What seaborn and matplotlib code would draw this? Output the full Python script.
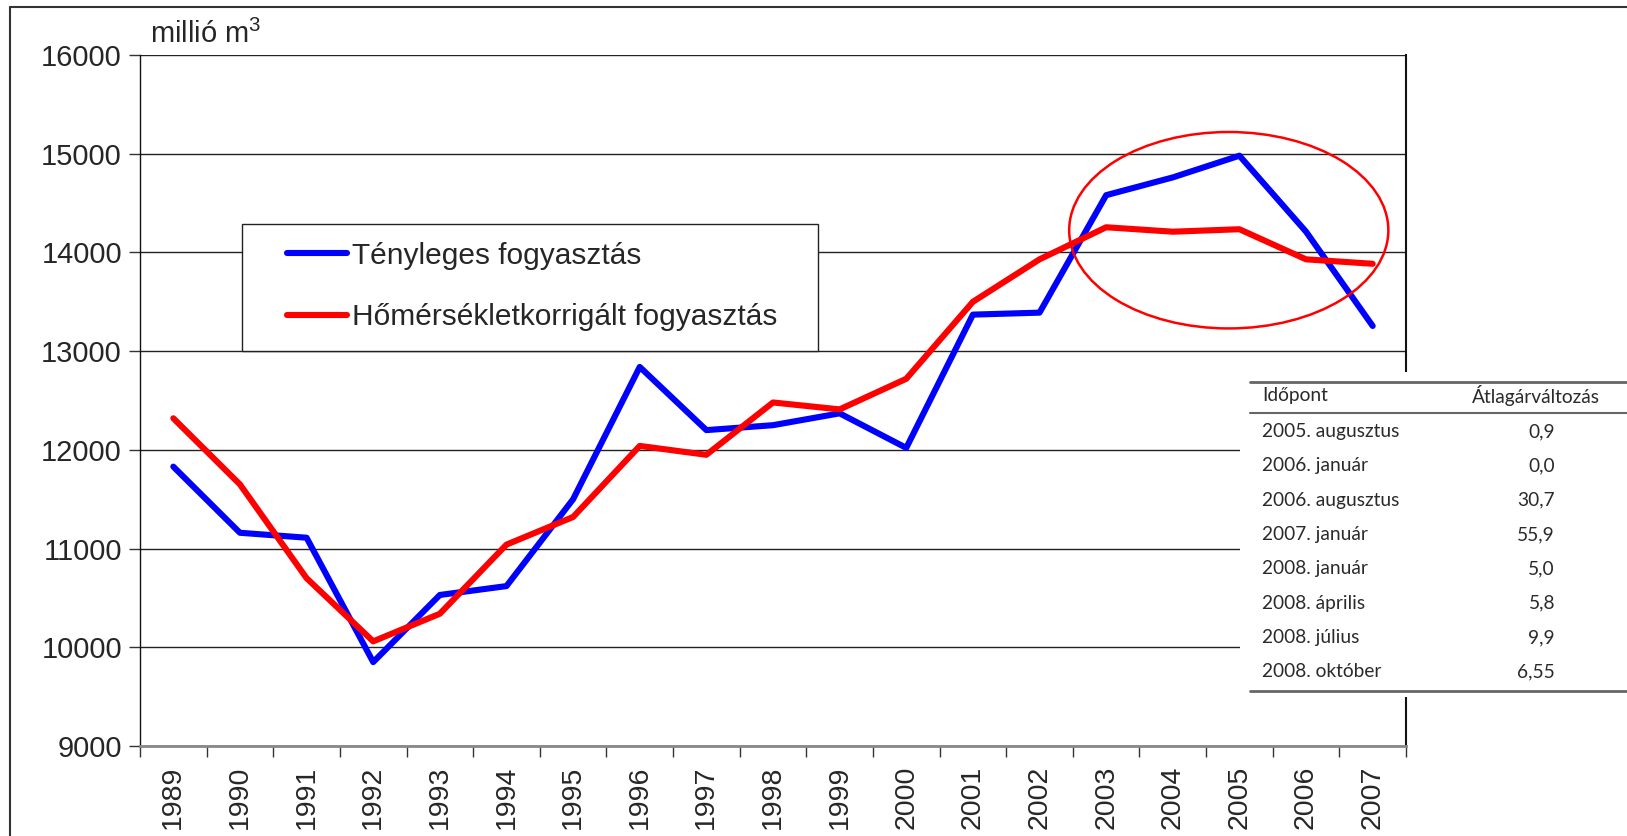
import numpy as np
import pandas as pd
import matplotlib
matplotlib.use("Agg")
import matplotlib.pyplot as plt
from matplotlib.patches import Ellipse, Rectangle
from matplotlib.lines import Line2D
import seaborn as sns

# yearly gas consumption, million m3
years = list(range(1989, 2008))
actual = [11830, 11160, 11110, 9850, 10530, 10620, 11500, 12840, 12200, 12250,
          12370, 12020, 13370, 13390, 14580, 14760, 14980, 14210, 13255]
corrected = [12320, 11650, 10700, 10060, 10340, 11040, 11320, 12040, 11950, 12480,
             12410, 12720, 13500, 13930, 14255, 14210, 14235, 13930, 13885]
series_names = ["Tényleges fogyasztás", "Hőmérsékletkorrigált fogyasztás"]

# inset table (price change)
table_header = ["Időpont", "Átlagárváltozás"]
table_dates = ["2005. augusztus", "2006. január", "2006. augusztus", "2007. január",
               "2008. január", "2008. április", "2008. július", "2008. október"]
table_values = ["0,9", "0,0", "30,7", "55,9", "5,0", "5,8", "9,9", "6,55"]

df = pd.concat([
    pd.DataFrame({"year": years, "value": actual, "series": series_names[0]}),
    pd.DataFrame({"year": years, "value": corrected, "series": series_names[1]}),
])

sns.set_style("white")
plt.rcParams["font.family"] = ["Liberation Sans", "DejaVu Sans"]
plt.rcParams["mathtext.default"] = "regular"

W, H = 1627, 836
fig = plt.figure(figsize=(W / 100, H / 100), dpi=100)
ax = fig.add_axes([140 / W, 1 - 746 / H, (1406 - 140) / W, (746 - 55) / H])

sns.lineplot(data=df, x="year", y="value", hue="series",
             palette={series_names[0]: "#0000ff", series_names[1]: "#ff0000"},
             linewidth=4.4, ax=ax, legend=True)

ax.set_xlim(1988.5, 2007.5)
ax.set_ylim(9000, 16000)
ax.set_xlabel("")
ax.set_ylabel("")

# excel style category axis: ticks between years, labels in the middle
ax.set_xticks(np.arange(1988.5, 2008, 1))
ax.set_xticklabels([])
ax.set_xticks(years, minor=True)
ax.set_xticklabels([str(y) for y in years], minor=True, rotation=90, fontsize=20.5)
ax.tick_params(axis="x", which="major", direction="out", length=8, width=1, color="#333", bottom=True)
ax.tick_params(axis="x", which="minor", length=0, pad=14)

ax.set_yticks(range(9000, 16001, 1000))
ax.set_yticklabels([str(v) for v in range(9000, 16001, 1000)], fontsize=21)
ax.tick_params(axis="y", direction="out", length=8, width=1, color="#333", left=True, pad=5)

ax.yaxis.grid(True, color="#222", linewidth=1)
ax.set_axisbelow(True)
ax.spines["top"].set_visible(False)
ax.spines["left"].set_color("#111")
ax.spines["left"].set_linewidth(1)
ax.spines["right"].set_color("#111")
ax.spines["right"].set_linewidth(1.5)
ax.spines["bottom"].set_color("#888")
ax.spines["bottom"].set_linewidth(2)

# highlight of the 2003-2007 period
ax.add_patch(Ellipse((2004.84, 14225), 4.79, 1990, fill=False,
                     edgecolor="#ff0000", linewidth=1.8, zorder=5))

# legend: white box with a thin frame, entries placed inside it
ax.add_patch(Rectangle((0.0806, 0.5716), 0.4549, 0.1838, transform=ax.transAxes,
                       facecolor="white", edgecolor="#222", linewidth=1, zorder=6))
handles, labels = ax.get_legend_handles_labels()
leg = ax.legend(handles, labels, loc="upper left", bbox_to_anchor=(0.1161, 0.7298),
                fontsize=21.5, frameon=False, borderpad=0, labelspacing=1.12,
                handlelength=2.0, handletextpad=0.17, borderaxespad=0)
leg.set_zorder(7)
for ln in leg.get_lines():
    ln.set_linewidth(4.4)
    ln.set_solid_capstyle("round")

fig.text(150 / W, 1 - 43 / H, "millió m$^3$", fontsize=21, ha="left", va="baseline")

# outer frame of the original picture
fig.add_artist(Line2D([9.5 / W, 9.5 / W], [0, 1 - 7 / H], transform=fig.transFigure, color="#333", lw=1.5))
fig.add_artist(Line2D([9.5 / W, 1], [1 - 7 / H, 1 - 7 / H], transform=fig.transFigure, color="#333", lw=1.5))

# inset table
tx0, ty0 = 1240, 372
tab = fig.add_axes([tx0 / W, 1 - 697 / H, (W - tx0) / W, (697 - ty0) / H])
tab.set_facecolor("white")
tab.set_xlim(tx0, W)
tab.set_ylim(697, ty0)
tab.set_xticks([])
tab.set_yticks([])
for s in tab.spines.values():
    s.set_visible(False)

tfont = dict(family=["Lato", "DejaVu Sans"], fontsize=13.8, color="#2a2a2a")
for yy in (381.7, 691):
    tab.plot([1250, W], [yy, yy], color="#666", lw=2)
tab.plot([1250, W], [412.7, 412.7], color="#666", lw=1.5)
tab.text(1262, 396, table_header[0], ha="left", va="center", **tfont)
tab.text(1472, 396, table_header[1], ha="left", va="center", **tfont)
for i, (d, v) in enumerate(zip(table_dates, table_values)):
    yy = 431.7 + i * 34.3
    tab.text(1262, yy, d, ha="left", va="center", **tfont)
    tab.text(1555, yy, v, ha="right", va="center", **tfont)

fig.savefig("out.png", dpi=100)
